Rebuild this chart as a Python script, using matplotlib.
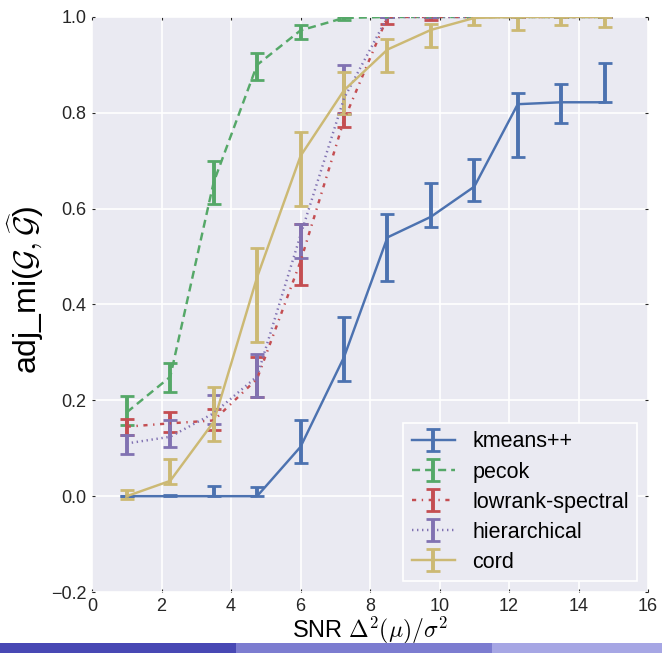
import matplotlib
matplotlib.use("Agg")
import matplotlib.pyplot as plt
import numpy as np
from matplotlib.patches import Rectangle

# данные
snr = [1.0, 2.25, 3.5, 4.75, 6.0, 7.25, 8.5, 9.75, 11.0, 12.25, 13.5, 14.75]

kmeans_mean = [0.0, 0.0, 0.0, 0.0, 0.103, 0.290, 0.540, 0.583, 0.646, 0.818, 0.822, 0.822]
kmeans_lo = [0.0, 0.0, 0.0, 0.0, 0.069, 0.240, 0.450, 0.562, 0.615, 0.708, 0.779, 0.822]
kmeans_hi = [0.0, 0.003, 0.021, 0.019, 0.160, 0.373, 0.588, 0.653, 0.703, 0.841, 0.861, 0.904]

pecok_mean = [0.175, 0.249, 0.655, 0.900, 0.972, 0.998, 1.0, 1.0, 1.0, 1.0, 1.0, 1.0]
pecok_lo = [0.148, 0.218, 0.609, 0.869, 0.955, 0.993, 1.0, 1.0, 1.0, 1.0, 1.0, 1.0]
pecok_hi = [0.209, 0.278, 0.699, 0.925, 0.984, 1.0, 1.0, 1.0, 1.0, 1.0, 1.0, 1.0]

lowrank_mean = [0.145, 0.152, 0.158, 0.245, 0.490, 0.785, 1.0, 1.0, 1.0, 1.0, 1.0, 1.0]
lowrank_lo = [0.127, 0.134, 0.139, 0.207, 0.440, 0.770, 0.986, 0.993, 1.0, 1.0, 1.0, 1.0]
lowrank_hi = [0.162, 0.176, 0.181, 0.290, 0.567, 0.800, 1.0, 1.0, 1.0, 1.0, 1.0, 1.0]

hier_mean = [0.110, 0.124, 0.173, 0.250, 0.545, 0.830, 1.0, 1.0, 1.0, 1.0, 1.0, 1.0]
hier_lo = [0.089, 0.103, 0.150, 0.206, 0.498, 0.798, 1.0, 1.0, 1.0, 1.0, 1.0, 1.0]
hier_hi = [0.127, 0.158, 0.211, 0.296, 0.567, 0.899, 1.0, 1.0, 1.0, 1.0, 1.0, 1.0]

cord_mean = [0.0, 0.032, 0.155, 0.457, 0.710, 0.847, 0.932, 0.973, 0.998, 1.0, 1.0, 1.0]
cord_lo = [-0.005, 0.025, 0.115, 0.322, 0.605, 0.798, 0.885, 0.938, 0.984, 0.972, 0.984, 0.979]
cord_hi = [0.012, 0.077, 0.228, 0.517, 0.761, 0.885, 0.955, 0.986, 1.0, 1.0, 1.0, 1.0]

plt.rcParams['font.family'] = ['Liberation Sans', 'DejaVu Sans']
plt.rcParams['mathtext.fontset'] = 'cm'
plt.rcParams['lines.scale_dashes'] = False

fig = plt.figure(figsize=(6.62, 6.53), dpi=100)
ax = fig.add_axes([0.139, 0.0934, 0.840, 0.8806])
ax.set_facecolor('#EAEAF2')
for s in ax.spines.values():
    s.set_visible(False)
ax.grid(True, color='white', linewidth=1.2)
ax.set_axisbelow(True)

series = [
    ('kmeans++', kmeans_mean, kmeans_lo, kmeans_hi, '#4C72B0', None),
    ('pecok', pecok_mean, pecok_lo, pecok_hi, '#55A868', (5.8, 3.6)),
    ('lowrank-spectral', lowrank_mean, lowrank_lo, lowrank_hi, '#C44E52', (3, 4, 1, 4)),
    ('hierarchical', hier_mean, hier_lo, hier_hi, '#8172B2', (1, 2.6)),
    ('cord', cord_mean, cord_lo, cord_hi, '#CCB974', None),
]

for name, m, lo, hi, col, dash in series:
    m = np.array(m)
    err = [m - np.array(lo), np.array(hi) - m]
    cont = ax.errorbar(snr, m, yerr=err, color=col, linewidth=1.75,
                       elinewidth=2.8, capsize=5, capthick=2, label=name)
    if dash is not None:
        cont.lines[0].set_dashes(dash)

ax.set_xlim(0, 16)
ax.set_ylim(-0.2, 1.0)
ax.set_xticks(np.arange(0, 17, 2))
ax.set_yticks(np.arange(-0.2, 1.01, 0.2))
ax.tick_params(labelsize=13, length=2, width=0.8, color='#262626',
               right=True, top=True, direction='in', labelcolor='#262626', pad=4)

ax.set_xlabel(r'SNR $\Delta^2(\mu)/\sigma^2$', fontsize=17, labelpad=0)
ax.set_ylabel(r'adj_mi($\mathcal{G},\widehat{\mathcal{G}}$)', fontsize=23)
ax.yaxis.set_label_coords(-0.083, 0.525)

leg = ax.legend(loc='lower right', fontsize=15.5, handlelength=2.0,
                labelspacing=0.42, fancybox=False, facecolor='#EAEAF2',
                edgecolor='white', framealpha=1)
leg.get_frame().set_linewidth(1.2)

# полоса внизу
fig.patches.append(Rectangle((0, 0), 236 / 662, 10 / 653, transform=fig.transFigure,
                             facecolor='#4848B4', edgecolor='none'))
fig.patches.append(Rectangle((236 / 662, 0), 256 / 662, 10 / 653, transform=fig.transFigure,
                             facecolor='#7C7CD0', edgecolor='none'))
fig.patches.append(Rectangle((492 / 662, 0), 170 / 662, 10 / 653, transform=fig.transFigure,
                             facecolor='#A6A6E4', edgecolor='none'))

fig.savefig('out.png', dpi=100)
